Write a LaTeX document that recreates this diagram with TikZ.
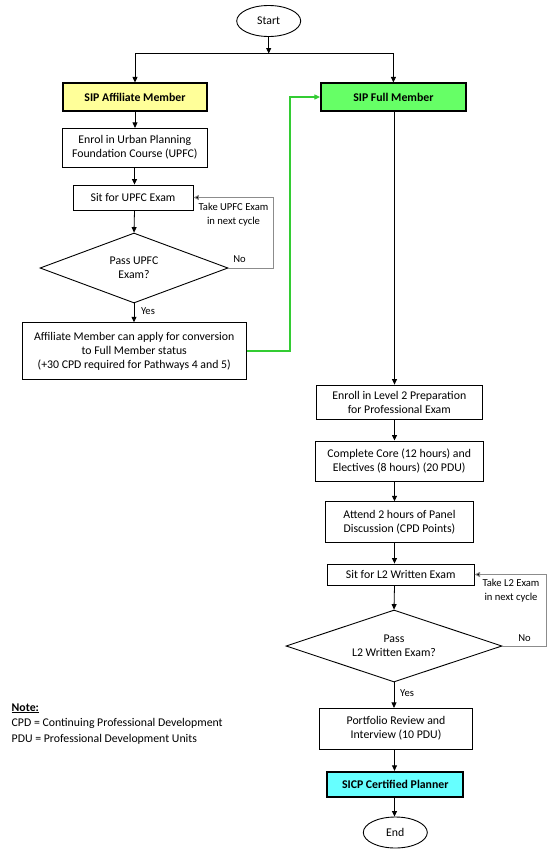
\documentclass[tikz,border=0pt]{standalone}
\usepackage{fontspec}
\setmainfont{Carlito}
\usetikzlibrary{shapes.geometric,arrows.meta,calc}
\definecolor{affY}{HTML}{FFFF99}
\definecolor{fullG}{HTML}{66FF66}
\definecolor{sicpC}{HTML}{66FFFF}
\definecolor{grnLine}{HTML}{33CC33}
\definecolor{loopGray}{HTML}{8C8C8C}
\tikzset{
  every node/.style={font=\fontsize{11.8}{14}\selectfont, text=black},
  pbox/.style={draw=black, line width=0.9pt, rectangle, inner sep=0pt, align=center},
  cbox/.style={draw=black, line width=1.7pt, rectangle, inner sep=0pt, align=center, font=\fontsize{11.8}{14}\selectfont\bfseries},
  term/.style={draw=black, line width=0.9pt, ellipse, inner sep=0pt, minimum width=64pt, minimum height=31pt},
  dec/.style={draw=black, line width=0.9pt, diamond, inner sep=0pt, aspect=2.7, align=center},
  lbl/.style={font=\fontsize{10.6}{13.5}\selectfont, align=center, inner sep=0pt},
  arr/.style={draw=black, line width=0.8pt, -{Triangle[length=5.5pt,width=5pt]}},
  garr/.style={draw=loopGray, line width=0.9pt, -{Triangle[length=5.5pt,width=5pt,fill=black]}},
  greenarr/.style={draw=grnLine, line width=1.1pt, -{Triangle[length=5.5pt,width=5pt]}},
  notetxt/.style={anchor=west, inner sep=0pt, font=\fontsize{11.8}{14}\selectfont},
}
\begin{document}
\begin{tikzpicture}[x=1pt,y=-1pt]
\useasboundingbox (0,0) rectangle (553,854);
\fill[white] (0,0) rectangle (553,854);

% terminals
\node[term] (start) at (268.7,21) {Start};
\node[term] (end) at (395.3,832.5) {End};

% left column
\node[cbox, fill=affY, minimum width=144.6pt, minimum height=27.4pt] (aff) at (135,97) {SIP Affiliate Member};
\node[pbox, minimum width=144.3pt, minimum height=38.7pt] (enrol) at (134.8,147.7) {Enrol in Urban Planning\\Foundation Course (UPFC)};
\node[pbox, minimum width=120pt, minimum height=25pt] (sitU) at (133,197.5) {Sit for UPFC Exam};
\node[dec, minimum width=188pt, minimum height=70pt] (dL) at (134,268) {Pass UPFC\\Exam?};
\node[pbox, minimum width=223.7pt, minimum height=56.6pt] (apply) at (134.2,351) {Affiliate Member can apply for conversion\\to Full Member status\\(+30 CPD required for Pathways 4 and 5)};

% right column
\node[cbox, fill=fullG, minimum width=145.3pt, minimum height=27.4pt] (full) at (393.4,97) {SIP Full Member};
\node[pbox, minimum width=166.7pt, minimum height=34.3pt] (enr2) at (399.3,402.2) {Enroll in Level 2 Preparation\\for Professional Exam};
\node[pbox, minimum width=168.3pt, minimum height=40.7pt] (core) at (399.2,461.3) {Complete Core (12 hours) and\\Electives (8 hours) (20 PDU)};
\node[pbox, minimum width=147.6pt, minimum height=41pt] (attend) at (399.5,522.2) {Attend 2 hours of Panel\\Discussion (CPD Points)};
\node[pbox, minimum width=146.7pt, minimum height=21pt] (sitL) at (400.7,574.5) {Sit for L2 Written Exam};
\node[dec, minimum width=216pt, minimum height=72pt] (dR) at (394,646) {Pass\\L2 Written Exam?};
\node[pbox, minimum width=153.4pt, minimum height=40.7pt] (port) at (396,728.7) {Portfolio Review and\\Interview (10 PDU)};
\node[cbox, fill=sicpC, minimum width=136pt, minimum height=25.6pt] (sicp) at (395.3,784.5) {SICP Certified Planner};

% helper coordinates
\coordinate (j) at (268.7,53.5);
\coordinate (colL) at (134.5,0);
\coordinate (colR) at (394.5,0);
\coordinate (loopL) at (273,0);
\coordinate (loopR) at (546,0);
\coordinate (gx) at (290,0);

% start split
\draw[arr] (start.south) -- (j);
\draw[arr] (j) -| (aff.north);
\draw[arr] (j) -| (full.north);

% left flow
\draw[arr] (aff.south) -- (aff.south |- enrol.north);
\draw[arr] (enrol.south -| colL) -- (sitU.north -| colL);
\draw[arr] (sitU.south -| colL) -- (dL.north);
\draw[arr] (dL.south) -- (dL.south |- apply.north);
\draw[garr] (dL.east) -- (dL.east -| loopL) |- (sitU.east);
\draw[greenarr] (apply.east) -| (gx |- full.west) -- (full.west);

% right flow
\draw[arr] (full.south -| colR) -- (enr2.north -| colR);
\draw[arr] (enr2.south -| colR) -- (core.north -| colR);
\draw[arr] (core.south -| colR) -- (attend.north -| colR);
\draw[arr] (attend.south -| colR) -- (sitL.north -| colR);
\draw[arr] (sitL.south -| colR) -- (dR.north);
\draw[garr] (dR.east) -- (dR.east -| loopR) |- (sitL.east);
\draw[arr] (dR.south) -- (dR.south |- port.north);
\draw[arr] (port.south -| colR) -- (sicp.north -| colR);
\draw[arr] (sicp.south -| colR) -- (end.north -| colR);

% labels
\node[lbl] (lTakeU) at (233.5,214.7) {Take UPFC Exam\\in next cycle};
\node[lbl] (lNoU) at (239.5,259) {No};
\node[lbl] (lYesU) at (148,311) {Yes};
\node[lbl] (lTakeL) at (511,590.5) {Take L2 Exam\\in next cycle};
\node[lbl] (lNoL) at (524.5,638) {No};
\node[lbl] (lYesL) at (407,693) {Yes};

% note
\node[notetxt] (n1) at (11.5,708.3) {\underline{\textbf{Note:}}};
\node[notetxt] (n2) at (11.5,723.5) {CPD = Continuing Professional Development};
\node[notetxt] (n3) at (11.5,739) {PDU = Professional Development Units};
\end{tikzpicture}
\end{document}
